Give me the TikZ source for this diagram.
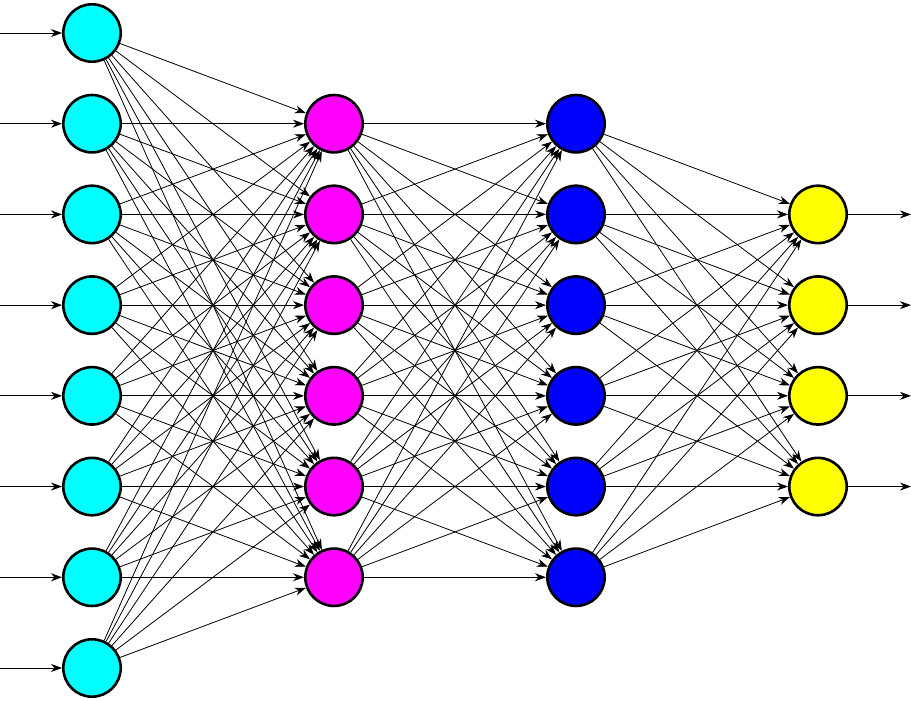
\documentclass[tikz,border=0pt]{standalone}
\usepackage{tikz}
\usetikzlibrary{arrows.meta}
\definecolor{inputcol}{RGB}{0,255,255}
\definecolor{hiddenacol}{RGB}{255,0,255}
\definecolor{hiddenbcol}{RGB}{0,0,255}
\definecolor{outputcol}{RGB}{255,255,0}

\begin{document}
\begin{tikzpicture}[x=1pt,y=-1pt,
    >={Stealth[length=11pt,width=8pt,inset=3.5pt]},
    neuron/.style={circle,draw=black,line width=2.6pt,minimum size=57.4pt,inner sep=0pt},
    link/.style={->,line width=0.8pt,black}]
  \useasboundingbox (0,0) rectangle (911,701);

  % layers
  \foreach \i in {0,...,7}
    \node[neuron,fill=inputcol] (in\i) at (92,{33+90.71*\i}) {};
  \foreach \i in {1,...,6}
    \node[neuron,fill=hiddenacol] (ha\i) at (334,{33+90.71*\i}) {};
  \foreach \i in {1,...,6}
    \node[neuron,fill=hiddenbcol] (hb\i) at (576,{33+90.71*\i}) {};
  \foreach \i in {2,...,5}
    \node[neuron,fill=outputcol] (out\i) at (818,{33+90.71*\i}) {};

  % inputs and outputs
  \foreach \i in {0,...,7} {
    \coordinate (src\i) at (0,{33+90.71*\i});
    \draw[link] (src\i) -- (in\i);
  }
  \foreach \i in {2,...,5} {
    \coordinate (dst\i) at (911,{33+90.71*\i});
    \draw[link] (out\i) -- (dst\i);
  }

  % connections
  \foreach \i in {0,...,7}
    \foreach \j in {1,...,6}
      \draw[link] (in\i) -- (ha\j);
  \foreach \i in {1,...,6}
    \foreach \j in {1,...,6}
      \draw[link] (ha\i) -- (hb\j);
  \foreach \i in {1,...,6}
    \foreach \j in {2,...,5}
      \draw[link] (hb\i) -- (out\j);
\end{tikzpicture}
\end{document}
